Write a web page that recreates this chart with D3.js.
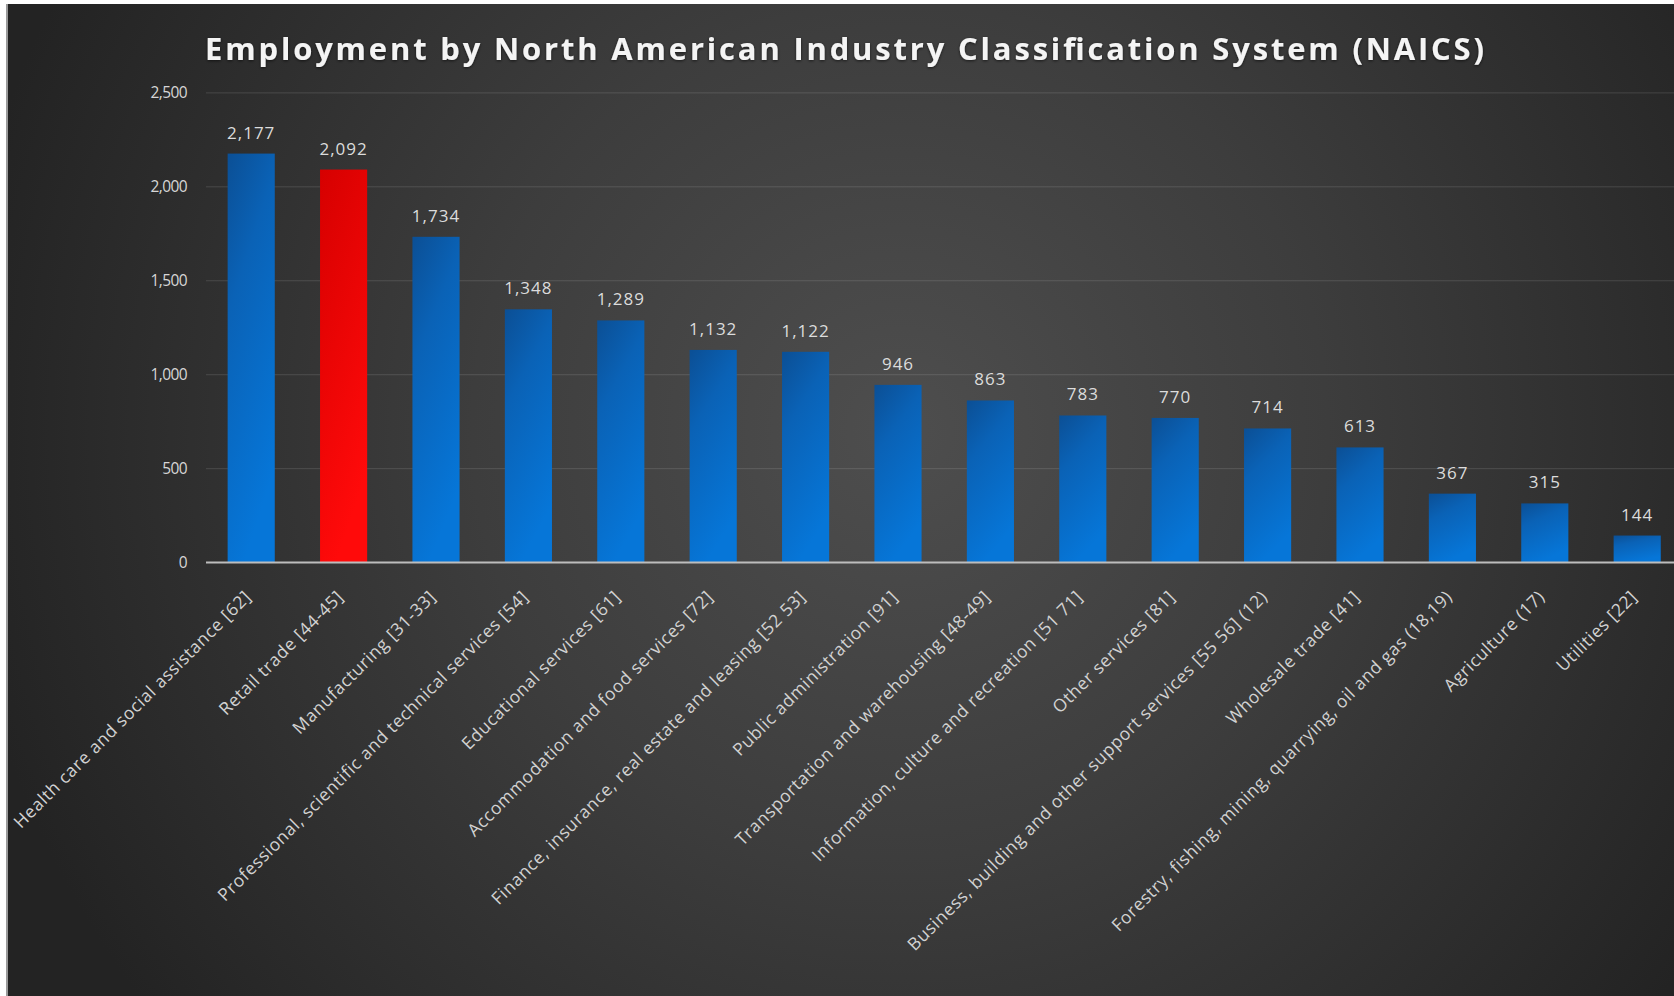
<!DOCTYPE html>
<html>
<head>
<meta charset="utf-8">
<script src="https://cdn.jsdelivr.net/npm/d3@7"></script>
<style>
  body { margin: 0; background: #fff; }
  svg { display: block; }
  text { font-family: "Open Sans", "Noto Sans", sans-serif; }
</style>
</head>
<body>
<svg width="1674" height="996"></svg>
<script>
const categories = [
    'Health care and social assistance [62]',
    'Retail trade [44-45]',
    'Manufacturing [31-33]',
    'Professional, scientific and technical services [54]',
    'Educational services [61]',
    'Accommodation and food services [72]',
    'Finance, insurance, real estate and leasing [52 53]',
    'Public administration [91]',
    'Transportation and warehousing [48-49]',
    'Information, culture and recreation [51 71]',
    'Other services [81]',
    'Business, building and other support services [55 56] (12)',
    'Wholesale trade [41]',
    'Forestry, fishing, mining, quarrying, oil and gas (18,19)',
    'Agriculture (17)',
    'Utilities [22]'
];
const employment = [2177, 2092, 1734, 1348, 1289, 1132, 1122, 946, 863, 783, 770, 714, 613, 367, 315, 144];
const highlighted = ['Retail trade [44-45]'];
const yTicks = [0, 500, 1000, 1500, 2000, 2500];
const title = 'Employment by North American Industry Classification System (NAICS)';

const svg = d3.select('svg');
const width = 1674;
const height = 996;

const defs = svg.append('defs');

// background: dark radial glow, lighter towards the middle
const bg = defs.append('radialGradient')
    .attr('id', 'bgGrad')
    .attr('gradientUnits', 'userSpaceOnUse')
    .attr('cx', 900).attr('cy', 430).attr('r', 950);
bg.append('stop').attr('offset', '0%').attr('stop-color', '#4e4e4e');
bg.append('stop').attr('offset', '45%').attr('stop-color', '#3d3d3d');
bg.append('stop').attr('offset', '100%').attr('stop-color', '#232323');

const blue = defs.append('linearGradient')
    .attr('id', 'blueGrad')
    .attr('x1', 0).attr('y1', 0).attr('x2', 0.35).attr('y2', 1);
blue.append('stop').attr('offset', '0%').attr('stop-color', '#0b4f95');
blue.append('stop').attr('offset', '35%').attr('stop-color', '#0a62b6');
blue.append('stop').attr('offset', '100%').attr('stop-color', '#0676d8');

const red = defs.append('linearGradient')
    .attr('id', 'redGrad')
    .attr('x1', 0).attr('y1', 0).attr('x2', 0.35).attr('y2', 1);
red.append('stop').attr('offset', '0%').attr('stop-color', '#d60000');
red.append('stop').attr('offset', '100%').attr('stop-color', '#ff0a0a');

const shadow = defs.append('filter').attr('id', 'glow')
    .attr('x', '-5%').attr('y', '-30%').attr('width', '110%').attr('height', '160%');
shadow.append('feDropShadow')
    .attr('dx', 0).attr('dy', 1).attr('stdDeviation', 1.5)
    .attr('flood-color', '#000').attr('flood-opacity', 0.6);

svg.append('rect')
    .attr('x', 8).attr('y', 4)
    .attr('width', width - 8).attr('height', height - 4)
    .attr('fill', 'url(#bgGrad)');
svg.append('line')
    .attr('x1', 7).attr('x2', 7).attr('y1', 4).attr('y2', height)
    .attr('stroke', '#9a9a9a').attr('stroke-width', 2);

const x = d3.scaleBand()
    .domain(categories)
    .range([205, 205 + 16 * 92.4])
    .paddingInner(0.49)
    .paddingOuter(0.245);

const y = d3.scaleLinear()
    .domain([0, 2500])
    .range([562.6, 92.9]);

// gridlines
svg.append('g')
    .selectAll('line')
    .data(yTicks.filter(d => d > 0))
    .join('line')
    .attr('x1', 206).attr('x2', width)
    .attr('y1', d => y(d)).attr('y2', d => y(d))
    .attr('stroke', '#ffffff')
    .attr('stroke-opacity', 0.13)
    .attr('stroke-width', 1);

// y axis labels
const yAxis = svg.append('g')
    .attr('transform', 'translate(206,0)')
    .call(d3.axisLeft(y).tickValues(yTicks).tickFormat(d3.format(',')).tickSize(0).tickPadding(19));
yAxis.select('.domain').remove();
yAxis.selectAll('text')
    .attr('fill', '#d6d6d6')
    .style('font-size', '15.5px')
    .style('letter-spacing', '-0.6px');

// bars
svg.append('g')
    .selectAll('rect')
    .data(categories)
    .join('rect')
    .attr('x', d => x(d))
    .attr('width', x.bandwidth())
    .attr('y', (d, i) => y(employment[i]))
    .attr('height', (d, i) => y(0) - y(employment[i]))
    .attr('fill', d => highlighted.includes(d) ? 'url(#redGrad)' : 'url(#blueGrad)');

// baseline
svg.append('line')
    .attr('x1', 206).attr('x2', width)
    .attr('y1', y(0)).attr('y2', y(0))
    .attr('stroke', '#bdbdbd')
    .attr('stroke-width', 2);

// value labels
svg.append('g')
    .selectAll('text')
    .data(categories)
    .join('text')
    .attr('x', d => x(d) + x.bandwidth() / 2)
    .attr('y', (d, i) => y(employment[i]) - 15)
    .attr('text-anchor', 'middle')
    .attr('fill', '#dcdcdc')
    .style('font-size', '17px')
    .style('letter-spacing', '1px')
    .text((d, i) => d3.format(',')(employment[i]));

// category labels, rotated
svg.append('g')
    .selectAll('text')
    .data(categories)
    .join('text')
    .attr('transform', d => `translate(${x(d) + x.bandwidth() / 2 + 1},${598}) rotate(-45)`)
    .attr('text-anchor', 'end')
    .attr('fill', '#d2d2d2')
    .style('font-size', '17.5px')
    .style('letter-spacing', '0.6px')
    .text(d => d);

// title
svg.append('text')
    .attr('x', 205)
    .attr('y', 60)
    .attr('textLength', 1279)
    .attr('lengthAdjust', 'spacing')
    .attr('fill', '#f4f4f4')
    .attr('filter', 'url(#glow)')
    .style('font-size', '31px')
    .style('font-weight', 'bold')
    .text(title);
</script>
</body>
</html>
